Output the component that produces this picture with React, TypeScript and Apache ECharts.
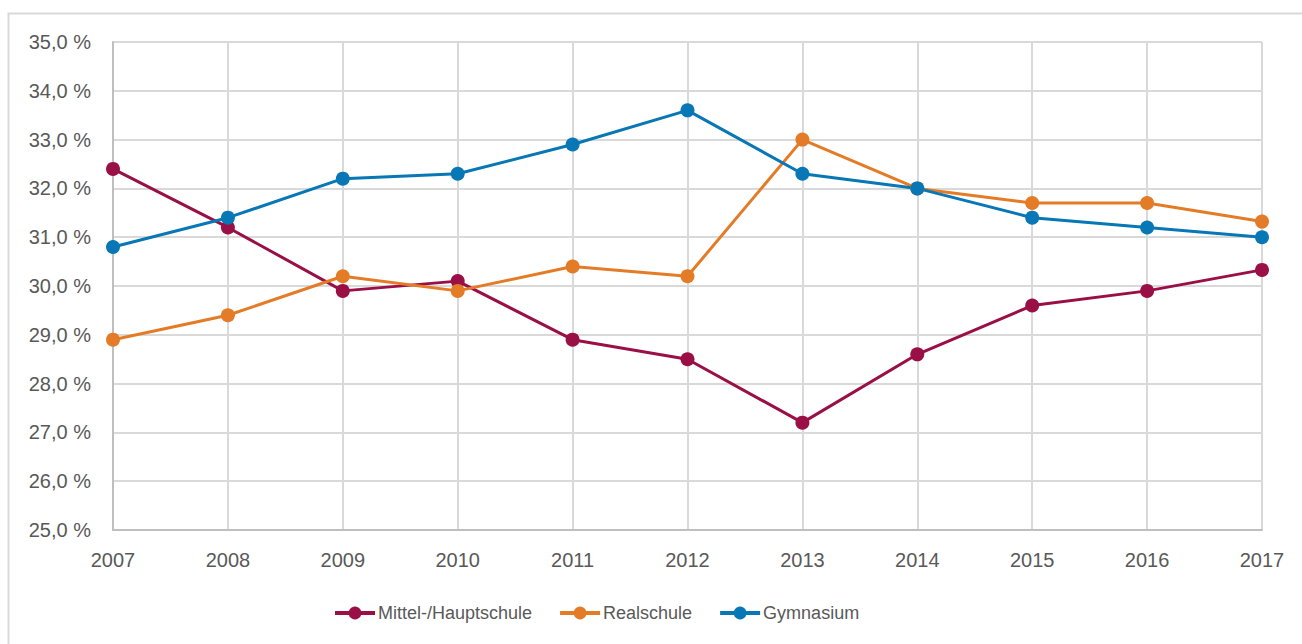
import React, { useEffect, useRef } from "react";
import * as echarts from "echarts";

const years = ["2007", "2008", "2009", "2010", "2011", "2012", "2013", "2014", "2015", "2016", "2017"];
const mittel = [32.4, 31.2, 29.9, 30.1, 28.9, 28.5, 27.2, 28.6, 29.6, 29.9, 30.33];
const real = [28.9, 29.4, 30.2, 29.9, 30.4, 30.2, 33.0, 32.0, 31.7, 31.7, 31.32];
const gym = [30.8, 31.4, 32.2, 32.3, 32.9, 33.6, 32.3, 32.0, 31.4, 31.2, 31.0];
const seriesNames = ["Mittel-/Hauptschule", "Realschule", "Gymnasium"];
const colors = ["#990F46", "#E47B26", "#0777B5"];

const FONT = "'Liberation Sans', 'DejaVu Sans', sans-serif";

export default function App() {
  const ref = useRef<HTMLDivElement>(null);
  useEffect(() => {
    document.body.style.margin = "0";
    const chart = echarts.init(ref.current!, null, { renderer: "svg" });
    const data = [mittel, real, gym];
    chart.setOption({
      animation: false,
      backgroundColor: "#ffffff",
      textStyle: { fontFamily: FONT },
      graphic: [
        {
          type: "rect",
          shape: { x: 8.5, y: 13.5, width: 1400, height: 700 },
          style: { fill: "none", stroke: "#d9d9d9", lineWidth: 2 },
          silent: true,
        },
      ],
      grid: { left: 113, right: 40, top: 42, bottom: 114 },
      legend: {
        top: 599,
        left: 328,
        itemWidth: 40,
        itemHeight: 16,
        itemGap: 26,
        lineStyle: { width: 4 },
        textStyle: { fontSize: 18, color: "#595959", fontFamily: FONT, padding: [0, 0, 0, -2] },
        data: seriesNames,
      },
      xAxis: {
        type: "category",
        data: years,
        boundaryGap: false,
        axisLine: { show: true, lineStyle: { color: "#bfbfbf", width: 2 } },
        axisTick: { show: false },
        splitLine: { show: true, lineStyle: { color: "#d9d9d9", width: 2 } },
        axisLabel: { fontSize: 20, color: "#595959", margin: 20, fontFamily: FONT },
      },
      yAxis: {
        type: "value",
        min: 25,
        max: 35,
        interval: 1,
        axisLine: { show: true, lineStyle: { color: "#bfbfbf", width: 2 } },
        axisTick: { show: false },
        splitLine: { show: true, lineStyle: { color: "#d9d9d9", width: 2 } },
        axisLabel: {
          fontSize: 20,
          color: "#595959",
          margin: 22,
          fontFamily: FONT,
          formatter: (v: number) => v.toFixed(1).replace(".", ",") + " %",
        },
      },
      series: seriesNames.map((name, i) => ({
        name,
        type: "line",
        data: data[i],
        color: colors[i],
        symbol: "circle",
        symbolSize: 14,
        lineStyle: { width: 3, color: colors[i] },
        itemStyle: { color: colors[i] },
      })),
    });
    return () => chart.dispose();
  }, []);
  return <div ref={ref} style={{ width: 1302, height: 644 }} />;
}
